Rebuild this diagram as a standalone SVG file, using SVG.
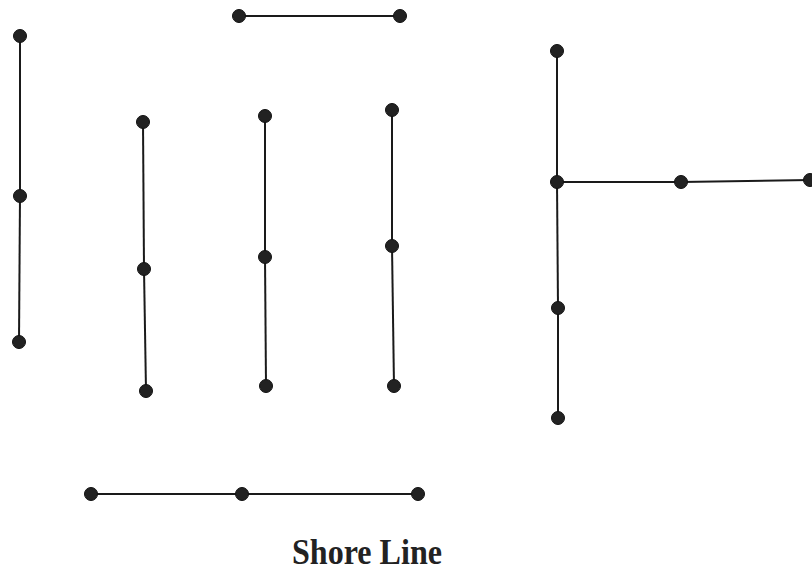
<svg xmlns="http://www.w3.org/2000/svg" width="812" height="572" viewBox="0 0 812 572">
<style>
.ln{stroke:#1a1a1a;stroke-width:2;fill:none}
.pt{fill:#222;stroke:#111;stroke-width:1}
.lbl{font-family:"Liberation Serif","Times New Roman",serif;font-weight:bold;font-size:36px;fill:#222}
</style>
<rect width="812" height="572" fill="#fff"/>
<g id="connectors">
<line class="ln" x1="20" y1="36" x2="20" y2="196"/>
<line class="ln" x1="20" y1="196" x2="19" y2="342"/>
<line class="ln" x1="239" y1="16" x2="400" y2="16"/>
<line class="ln" x1="143" y1="122" x2="144" y2="269"/>
<line class="ln" x1="144" y1="269" x2="146" y2="391"/>
<line class="ln" x1="265" y1="116" x2="265" y2="257"/>
<line class="ln" x1="265" y1="257" x2="266" y2="386"/>
<line class="ln" x1="392" y1="110" x2="392" y2="246"/>
<line class="ln" x1="392" y1="246" x2="394" y2="386"/>
<line class="ln" x1="557" y1="51" x2="557" y2="182"/>
<line class="ln" x1="557" y1="182" x2="558" y2="308"/>
<line class="ln" x1="558" y1="308" x2="558" y2="418"/>
<line class="ln" x1="557" y1="182" x2="681" y2="182"/>
<line class="ln" x1="681" y1="182" x2="810" y2="180"/>
<line class="ln" x1="91" y1="494" x2="242" y2="494"/>
<line class="ln" x1="242" y1="494" x2="418" y2="494"/>
</g>
<g id="n1"><circle class="pt" cx="20" cy="36" r="6.5"/></g>
<g id="n2"><circle class="pt" cx="20" cy="196" r="6.5"/></g>
<g id="n3"><circle class="pt" cx="19" cy="342" r="6.5"/></g>
<g id="n4"><circle class="pt" cx="239" cy="16" r="6.5"/></g>
<g id="n5"><circle class="pt" cx="400" cy="16" r="6.5"/></g>
<g id="n6"><circle class="pt" cx="143" cy="122" r="6.5"/></g>
<g id="n7"><circle class="pt" cx="144" cy="269" r="6.5"/></g>
<g id="n8"><circle class="pt" cx="146" cy="391" r="6.5"/></g>
<g id="n9"><circle class="pt" cx="265" cy="116" r="6.5"/></g>
<g id="n10"><circle class="pt" cx="265" cy="257" r="6.5"/></g>
<g id="n11"><circle class="pt" cx="266" cy="386" r="6.5"/></g>
<g id="n12"><circle class="pt" cx="392" cy="110" r="6.5"/></g>
<g id="n13"><circle class="pt" cx="392" cy="246" r="6.5"/></g>
<g id="n14"><circle class="pt" cx="394" cy="386" r="6.5"/></g>
<g id="n15"><circle class="pt" cx="557" cy="51" r="6.5"/></g>
<g id="n16"><circle class="pt" cx="557" cy="182" r="6.5"/></g>
<g id="n17"><circle class="pt" cx="558" cy="308" r="6.5"/></g>
<g id="n18"><circle class="pt" cx="558" cy="418" r="6.5"/></g>
<g id="n19"><circle class="pt" cx="681" cy="182" r="6.5"/></g>
<g id="n20"><circle class="pt" cx="810" cy="180" r="6.5"/></g>
<g id="n21"><circle class="pt" cx="91" cy="494" r="6.5"/></g>
<g id="n22"><circle class="pt" cx="242" cy="494" r="6.5"/></g>
<g id="n23"><circle class="pt" cx="418" cy="494" r="6.5"/></g>
<g id="label"><text class="lbl" x="292" y="564" textLength="150" lengthAdjust="spacingAndGlyphs">Shore Line</text></g>
</svg>
